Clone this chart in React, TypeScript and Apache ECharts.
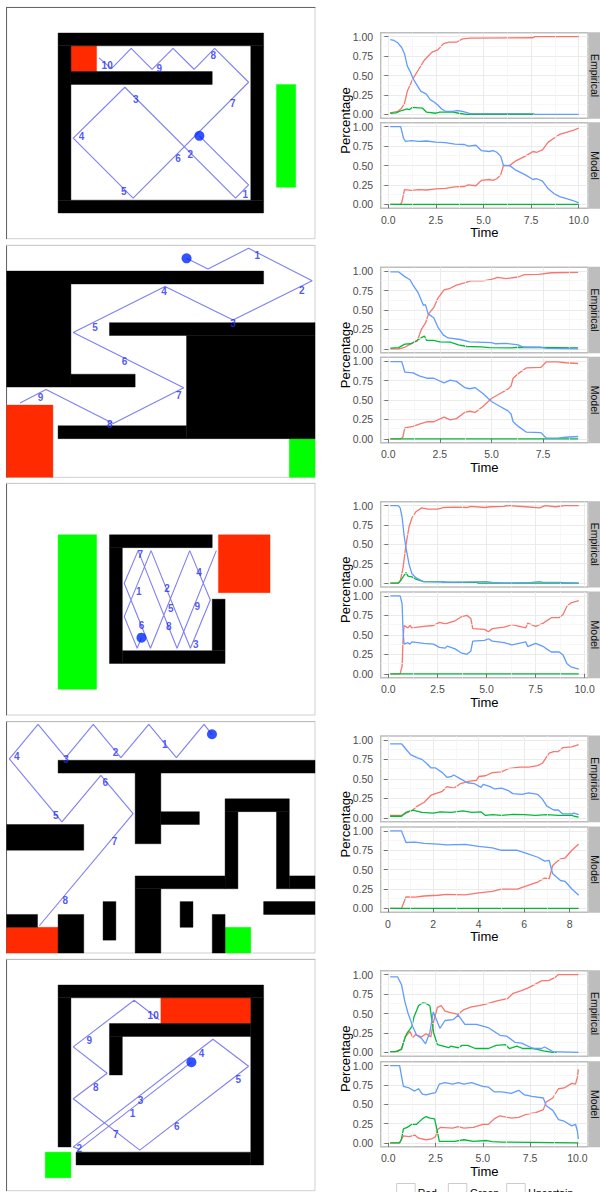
import React, { useEffect, useRef } from "react";
import * as echarts from "echarts";

type P = number[][];

// Time-course data: [time, share]
const r1EmpRed: P = [[.1,.02],[.3,.03],[.5,.04],[.7,.08],[.85,.14],[1,.3],[1.15,.38],[1.3,.46],[1.6,.58],[1.9,.7],[2.1,.75],[2.3,.8],[2.6,.83],[2.9,.91],[3.2,.93],[3.6,.93],[3.9,.97],[4.3,.98],[7.6,.985],[7.7,1],[10,1]];
const r1EmpGreen: P = [[.1,.015],[.4,.02],[.7,.05],[1,.07],[1.1,.06],[1.25,.09],[1.8,.08],[2,.03],[2.5,.015],[2.7,.03],[3.4,.03],[3.7,.015],[4.1,0],[7.6,0]];
const r1EmpBlue: P = [[.1,.96],[.3,.95],[.5,.92],[.7,.86],[.85,.78],[1,.62],[1.15,.55],[1.3,.46],[1.5,.38],[1.7,.3],[2,.26],[2.2,.19],[2.4,.16],[2.6,.12],[2.8,.07],[3,.04],[3.4,.04],[3.6,.05],[3.9,.04],[4.3,.01],[7.6,.01],[7.7,0],[10,0]];
const r1ModRed: P = [[.1,0],[.6,0],[.7,.02],[.85,.19],[1.2,.18],[1.6,.19],[2,.185],[2.5,.2],[3,.205],[3.5,.225],[4,.23],[4.2,.25],[4.6,.24],[4.9,.31],[5.3,.32],[5.5,.31],[5.7,.33],[5.9,.38],[6.05,.5],[6.4,.505],[6.7,.56],[7.2,.62],[7.6,.68],[7.8,.67],[8.1,.7],[8.4,.8],[8.7,.85],[9,.9],[9.4,.93],[9.7,.95],[10,.98]];
const r1ModGreen: P = [[.1,0],[10,0]];
const r1ModBlue: P = [[.1,1],[.65,1],[.8,.85],[.9,.81],[1.2,.82],[1.6,.81],[2,.815],[2.5,.8],[3,.795],[3.5,.775],[4,.77],[4.2,.75],[4.6,.76],[4.9,.69],[5.3,.68],[5.5,.69],[5.7,.67],[5.9,.62],[6.05,.5],[6.4,.495],[6.7,.44],[7.2,.38],[7.6,.32],[7.8,.33],[8.1,.3],[8.4,.2],[8.7,.14],[9,.1],[9.4,.07],[9.7,.05],[10,.02]];

const r2EmpRed: P = [[.1,0],[.5,0],[.8,.02],[1.2,.08],[1.4,.1],[1.6,.25],[1.8,.33],[1.95,.45],[2.2,.53],[2.4,.65],[2.7,.76],[3,.78],[3.3,.82],[3.7,.85],[4,.875],[4.6,.875],[5,.895],[5.3,.92],[5.7,.905],[6.3,.925],[6.6,.955],[7.3,.96],[7.9,.98],[9.2,.985]];
const r2EmpGreen: P = [[.1,.01],[.5,.015],[.8,.06],[1.1,.065],[1.4,.11],[1.65,.15],[1.75,.165],[1.85,.11],[2.2,.11],[2.5,.09],[3,.085],[3.4,.05],[3.8,.03],[4.5,.025],[4.9,.015],[6,.012],[6.3,.02],[9.2,.012]];
const r2EmpBlue: P = [[.1,.99],[.5,.99],[.8,.93],[1.05,.89],[1.2,.82],[1.45,.72],[1.7,.56],[1.8,.57],[1.93,.45],[2.2,.4],[2.4,.28],[2.66,.18],[2.9,.14],[3.47,.12],[3.95,.09],[5,.08],[5.2,.065],[5.7,.07],[6.3,.05],[6.55,.02],[7.4,.02],[7.7,.005],[9.2,0]];
const r2ModRed: P = [[.1,0],[.6,0],[.7,.02],[.8,.14],[1.2,.16],[1.5,.19],[1.9,.22],[2.2,.22],[2.7,.28],[3,.245],[3.3,.26],[3.7,.34],[3.95,.355],[4.2,.34],[4.6,.42],[5,.52],[5.4,.58],[5.8,.64],[5.95,.68],[6.05,.78],[6.3,.84],[6.7,.915],[7.4,.92],[7.65,.99],[8.2,.99],[8.6,.98],[9.2,.97]];
const r2ModGreen: P = [[.1,0],[9.2,0]];
const r2ModBlue: P = [[.1,.995],[.65,.995],[.8,.86],[1.2,.85],[1.5,.81],[1.9,.78],[2.2,.78],[2.7,.72],[3,.755],[3.3,.74],[3.7,.66],[3.95,.645],[4.2,.66],[4.6,.58],[5,.48],[5.4,.42],[5.8,.36],[5.95,.32],[6.05,.22],[6.3,.16],[6.7,.085],[7.4,.08],[7.65,.01],[8.2,.01],[8.6,.02],[9.2,.03]];

const r3EmpRed: P = [[.1,0],[.5,0],[.6,.02],[.75,.2],[.9,.5],[1.05,.72],[1.2,.84],[1.4,.92],[1.7,.97],[2,.955],[2.5,.955],[2.8,.975],[3.4,.98],[4,.975],[4.2,.99],[4.9,.975],[5.2,.985],[5.9,.99],[6,1],[7,.985],[7.7,.97],[8,1],[8.5,.985],[9,1],[9.7,1]];
const r3EmpGreen: P = [[.1,0],[.5,0],[.65,.04],[.8,.1],[.9,.135],[1,.09],[1.2,.08],[1.4,.05],[1.8,.02],[2.7,.015],[3.3,.01],[4.5,.01],[4.6,0],[9.7,0]];
const r3EmpBlue: P = [[.1,1],[.5,1],[.6,.97],[.7,.85],[.8,.62],[.9,.45],[1.05,.25],[1.2,.12],[1.4,.07],[1.7,.03],[1.8,.02],[2.7,.02],[2.8,.01],[5,.02],[5.3,.01],[6,0],[7.3,.01],[7.7,.02],[7.9,.01],[8.7,.01],[9.7,0]];
const r3ModRed: P = [[.1,0],[.6,0],[.7,.1],[.75,.45],[.8,.62],[1,.59],[1.1,.62],[1.2,.59],[1.8,.61],[2.3,.62],[2.6,.66],[2.9,.64],[3.4,.68],[3.7,.73],[4,.75],[4.2,.71],[4.3,.58],[4.9,.57],[5.1,.54],[5.3,.58],[5.9,.6],[6.3,.63],[7,.59],[7.1,.65],[7.5,.61],[7.9,.65],[8,.67],[8.3,.72],[8.7,.72],[8.9,.76],[9.1,.87],[9.3,.91],[9.7,.94]];
const r3ModGreen: P = [[.1,0],[9.7,0]];
const r3ModBlue: P = [[.1,1],[.6,1],[.7,.9],[.75,.55],[.8,.38],[1,.4],[1.1,.38],[1.2,.41],[1.8,.39],[2.3,.38],[2.6,.34],[2.9,.33],[3,.355],[3.4,.32],[3.7,.27],[4,.25],[4.2,.29],[4.3,.42],[4.9,.43],[5.1,.45],[5.3,.42],[5.9,.4],[6.3,.37],[7,.41],[7.1,.35],[7.5,.39],[7.9,.35],[8,.33],[8.3,.28],[8.7,.28],[8.9,.24],[9.1,.13],[9.3,.09],[9.7,.06]];

const r4EmpRed: P = [[.1,.03],[.6,.03],[.8,.06],[1.1,.1],[1.3,.15],[1.6,.2],[1.9,.29],[2.2,.32],[2.4,.34],[2.6,.4],[2.9,.38],[3.2,.44],[3.6,.47],[3.9,.48],[4,.53],[4.3,.54],[4.6,.58],[5,.59],[5.3,.63],[5.8,.65],[6.2,.65],[6.6,.67],[6.8,.7],[7.1,.83],[7.3,.85],[7.5,.85],[7.7,.9],[8.1,.91],[8.4,.94]];
const r4EmpGreen: P = [[.1,.02],[.6,.02],[.8,.07],[1.1,.1],[1.5,.07],[2,.06],[2.3,.075],[2.8,.07],[3.3,.09],[3.7,.07],[4.1,.075],[4.3,.03],[4.6,.04],[5,.03],[5.5,.045],[6,.04],[6.5,.03],[7,.04],[7.5,.03],[8.1,.03],[8.2,.02],[8.4,.01]];
const r4EmpBlue: P = [[.1,.95],[.6,.95],[.8,.88],[1,.81],[1.3,.77],[1.5,.75],[1.7,.7],[1.9,.64],[2.1,.64],[2.4,.58],[2.6,.52],[2.8,.53],[2.9,.55],[3.2,.5],[3.5,.45],[3.8,.44],[4.1,.39],[4.2,.43],[4.5,.4],[4.7,.37],[5,.38],[5.3,.35],[5.5,.31],[5.9,.3],[6.2,.32],[6.6,.3],[6.8,.24],[7,.15],[7.3,.1],[7.5,.1],[7.7,.05],[8.1,.05],[8.2,.06],[8.4,.04]];
const r4ModRed: P = [[.1,0],[.6,0],[.8,.15],[1.2,.145],[1.6,.16],[2.2,.17],[2.6,.18],[3.4,.175],[4,.2],[4.6,.22],[5,.25],[5.7,.25],[6.2,.3],[6.6,.34],[6.9,.39],[7.1,.38],[7.25,.55],[7.35,.58],[7.6,.64],[7.8,.65],[8.1,.75],[8.4,.83]];
const r4ModGreen: P = [[.1,0],[8.4,0]];
const r4ModBlue: P = [[.1,1],[.6,1],[.8,.85],[1.2,.855],[1.6,.84],[2.2,.83],[2.6,.82],[3.4,.825],[4,.8],[4.6,.78],[5,.75],[5.7,.75],[6.2,.7],[6.6,.66],[6.9,.61],[7.1,.62],[7.25,.45],[7.6,.36],[7.8,.35],[8.1,.25],[8.4,.17]];

const r5EmpRed: P = [[.1,.01],[.5,.01],[.7,.05],[.9,.2],[1.15,.27],[1.3,.19],[1.45,.23],[1.75,.2],[2,.24],[2.25,.2],[2.4,.4],[2.6,.58],[2.8,.6],[3,.53],[3.3,.51],[3.7,.49],[4,.55],[4.4,.585],[4.8,.6],[5.2,.625],[5.8,.665],[6.3,.69],[6.6,.76],[7,.79],[7.4,.83],[7.8,.88],[8.1,.92],[8.5,.925],[8.8,.96],[9,1],[10.05,1]];
const r5EmpGreen: P = [[.1,.01],[.4,.012],[.7,.04],[.9,.2],[1,.25],[1.25,.33],[1.35,.45],[1.6,.6],[1.8,.635],[2,.63],[2.2,.6],[2.4,.25],[2.6,.1],[2.9,.08],[3.2,.06],[3.3,.08],[3.7,.06],[3.9,.09],[4.2,.09],[4.6,.05],[5.3,.05],[5.7,.09],[6.2,.1],[6.4,.05],[6.8,.08],[7.1,.05],[7.7,.05],[8.2,.02],[8.7,0],[8.9,0]];
const r5EmpBlue: P = [[.1,.97],[.5,.97],[.7,.87],[.88,.65],[1.05,.5],[1.3,.33],[1.5,.22],[1.76,.18],[1.97,.11],[2.2,.26],[2.38,.52],[2.73,.31],[3,.41],[3.43,.42],[3.7,.48],[4.05,.36],[4.66,.36],[5.28,.32],[5.9,.22],[6.25,.21],[6.7,.13],[7.04,.12],[7.66,.05],[8.1,.05],[8.27,.07],[8.7,.01],[10.05,0]];
const r5ModRed: P = [[.1,0],[.6,0],[.8,.09],[1.1,.08],[1.4,.1],[1.6,.06],[2,.04],[2.3,.05],[2.5,.08],[2.6,.17],[2.75,.2],[3.4,.19],[3.7,.21],[4,.19],[4.5,.2],[5,.24],[5.3,.24],[5.6,.31],[5.9,.35],[6.5,.32],[6.9,.33],[7.3,.37],[7.8,.39],[8.2,.43],[8.35,.53],[8.7,.58],[9,.7],[9.3,.71],[9.7,.77],[9.9,.76],[10,.85],[10.05,.95]];
const r5ModGreen: P = [[.1,0],[.6,0],[.7,.05],[.8,.18],[1,.2],[1.25,.24],[1.5,.24],[1.8,.31],[2,.34],[2.2,.32],[2.45,.31],[2.55,.2],[2.7,.02],[3.3,.02],[3.5,.02],[4,.04],[4.5,.02],[5.2,.03],[5.5,.015],[6,.01],[10.05,0]];
const r5ModBlue: P = [[.1,1],[.6,1],[.8,.73],[1.1,.71],[1.4,.67],[1.6,.7],[1.8,.63],[2,.62],[2.3,.64],[2.5,.65],[2.7,.76],[3,.78],[3.4,.76],[3.7,.78],[4,.76],[4.4,.78],[5,.73],[5.3,.72],[5.6,.66],[6,.66],[6.5,.64],[6.9,.68],[7.2,.62],[7.6,.6],[8.2,.58],[8.35,.48],[8.7,.42],[9,.3],[9.3,.28],[9.7,.22],[9.9,.24],[10,.15],[10.05,.05]];

const yTicks = [0, 0.25, 0.5, 0.75, 1];
const yMinor = [0.125, 0.375, 0.625, 0.875];
const xTicks25 = [0, 2.5, 5, 7.5, 10];
const xTicks25b = [0, 2.5, 5, 7.5];
const xTicks2 = [0, 2, 4, 6, 8];
const xMinor25 = [1.25, 3.75, 6.25, 8.75];
const xMinor2 = [1, 3, 5, 7];

// Maze geometry in maze cells: [x0, y0, x1, y1]
const m1Walls: P = [[4,2,20,3],[4,15,20,16],[4,3,5,15],[19,3,20,15],[5,5,16,6]];
const m1Red: P = [[5,3,7,5]];
const m1Green: P = [[21,6,22.5,14]];
const m1Path: P = [[15,10],[18.83,13.81],[17.82,14.84],[9.2,6.22],[5.18,10.18],[9.84,14.84],[18.83,5.83],[16.19,3.19],[14.59,4.82],[12.95,3.19],[11.32,4.82],[9.69,3.19],[8.16,4.77],[7.18,3.94]];
const m1Labels: P = [[18.58,14.59],[14.3,11.48],[10.05,7.2],[5.83,10.05],[9.12,14.3],[13.34,11.79],[17.59,7.51],[16.09,3.76],[11.87,4.74],[7.82,4.53]];

const m2Walls: P = [[0,2,20,3],[0,3,5,11],[5,10,10,11],[8,6,24,7],[14,7,24,15],[4,14,14,15]];
const m2Red: P = [[0,12.4,3.6,18]];
const m2Green: P = [[22,15,24,18]];
const m2Path: P = [[14,1.01],[15.67,1.84],[18.83,.23],[23.78,2.75],[17.62,5.8],[12.33,3.19],[5.18,6.76],[13.78,11.06],[8.29,13.83],[3.06,11.19],[1.04,12.23]];
const m2Labels: P = [[19.51,.8],[22.98,3.52],[17.62,6.06],[12.25,3.6],[6.87,6.35],[9.17,8.99],[13.39,11.68],[8.03,13.91],[2.64,11.81]];

const m3Walls: P = [[8,4,16,5],[8,5,9,14],[9,13,17,14],[16,9,17,13]];
const m3Red: P = [[16.48,4,20.5,8.5]];
const m3Green: P = [[4,4,7,16]];
const m3Path: P = [[10.49,11.99],[10.16,12.82],[9.15,10.36],[11.24,5.23],[14.3,12.82],[15.85,9.07],[14.25,5.23],[11.19,12.82],[9.15,7.77],[10.23,5.23],[13.26,12.82],[16.32,5.23]];
const m3Labels: P = [[10.28,8.37],[12.49,8.21],[14.72,12.51],[14.97,6.92],[12.77,9.72],[10.49,11.06],[10.39,5.57],[12.62,11.14],[14.84,9.59]];

const m4Walls: P = [[4,3,24,4],[10,4,12,9.5],[12,7,15,8],[0,8,6,10],[17,6,22,7],[17,7,18,13],[21,7,22,13],[22,12,24,13],[10,12,17,13],[10,13,12,18],[0,15,2.4,16],[4,15,6,18],[7.5,14,8.5,17],[13.5,14,14.5,16],[16,15,17,18],[20,14,24,15]];
const m4Red: P = [[0,16,4,18]];
const m4Green: P = [[17,16,19,18]];
const m4Path: P = [[15.98,.98],[15.36,.21],[13.21,2.8],[11.06,.21],[8.89,2.8],[6.74,.21],[4.59,2.8],[2.44,.21],[.21,2.9],[4.3,7.8],[7.33,4.17],[9.84,7.15],[2.54,15.88]];
const m4Labels: P = [[12.31,1.81],[8.47,2.38],[4.61,2.95],[.78,2.72],[3.83,7.33],[7.67,4.72],[8.39,9.33],[4.56,13.94]];

const m5Walls: P = [[4,2,20,3],[4,3,5,14.6],[19,3,20,16],[5.4,15,19,16],[8,5,19,6],[8,6,9,9]];
const m5Red: P = [[12,3,19,5]];
const m5Green: P = [[3,15,5,17]];
const m5Path: P = [[14.38,8],[5.65,14.77],[5.18,14.59],[16.06,6.22],[18.83,8.32],[10.36,14.84],[5.18,10.85],[7.82,8.86],[5.18,6.81],[9.92,3.19],[11.87,4.69]];
const m5Labels: P = [[9.79,11.97],[5.65,14.69],[10.41,11.01],[15.16,7.33],[18.03,9.35],[13.24,13],[8.5,13.63],[6.94,9.95],[6.42,6.3],[11.4,4.38]];

const legendNames = ["Red", "Green", "Uncertain"];
const RED = "#F8766D", GREEN = "#00BA38", BLUE = "#619CFF";
const FONT = "'Liberation Sans', Arial, sans-serif";

const PX0 = 380.7, PX1 = 588;
const rowsCfg = [
  { frame: [7.3, 238.7], top: "#666", emp: [32.7, 118.3], mod: [122.7, 208.3], x: [-0.4, 10.49], ticks: xTicks25, minor: xMinor25, dec: 1,
    s: [r1EmpRed, r1EmpGreen, r1EmpBlue, r1ModRed, r1ModGreen, r1ModBlue], m: [m1Walls, m1Red, m1Green, m1Path, m1Labels] },
  { frame: [245.3, 477.3], top: "#ccc", emp: [267.3, 352.7], mod: [357.3, 442.7], x: [-0.37, 9.68], ticks: xTicks25b, minor: xMinor25, dec: 1,
    s: [r2EmpRed, r2EmpGreen, r2EmpBlue, r2ModRed, r2ModGreen, r2ModBlue], m: [m2Walls, m2Red, m2Green, m2Path, m2Labels] },
  { frame: [483.3, 715], top: "#ccc", emp: [501.7, 587], mod: [592, 677.7], x: [-0.39, 10.17], ticks: xTicks25, minor: xMinor25, dec: 1,
    s: [r3EmpRed, r3EmpGreen, r3EmpBlue, r3ModRed, r3ModGreen, r3ModBlue], m: [m3Walls, m3Red, m3Green, m3Path, m3Labels] },
  { frame: [721.7, 953], top: "#bbb", emp: [736, 821.7], mod: [827, 912.3], x: [-0.315, 8.81], ticks: xTicks2, minor: xMinor2, dec: 0,
    s: [r4EmpRed, r4EmpGreen, r4EmpBlue, r4ModRed, r4ModGreen, r4ModBlue], m: [m4Walls, m4Red, m4Green, m4Path, m4Labels] },
  { frame: [959.3, 1190.7], top: "#bbb", emp: [970.7, 1056.3], mod: [1061.7, 1146.7], x: [-0.4, 10.56], ticks: xTicks25, minor: xMinor25, dec: 1,
    s: [r5EmpRed, r5EmpGreen, r5EmpBlue, r5ModRed, r5ModGreen, r5ModBlue], m: [m5Walls, m5Red, m5Green, m5Path, m5Labels] },
];

function buildOption() {
  const grid: any[] = [], xAxis: any[] = [], yAxis: any[] = [], series: any[] = [], graphic: any[] = [];
  const rectSeries = (rects: P, idx: number, fill: string) => ({
    type: "custom", xAxisIndex: idx, yAxisIndex: idx, silent: true, z: 2, data: rects, clip: false,
    renderItem: (_: any, api: any) => {
      const a = api.coord([api.value(0), api.value(1)]);
      const b = api.coord([api.value(2), api.value(3)]);
      return { type: "rect", shape: { x: a[0], y: a[1], width: b[0] - a[0], height: b[1] - a[1] }, style: { fill, stroke: fill, lineWidth: 0.4 } };
    },
    encode: { x: [0, 2], y: [1, 3] },
  });

  rowsCfg.forEach((r) => {
    // maze
    let idx = grid.length;
    grid.push({ left: 6.7, width: 308.3, top: r.frame[0], height: r.frame[1] - r.frame[0], show: true, borderColor: "#cfcfcf", borderWidth: 1, backgroundColor: "#fff" });
    xAxis.push({ gridIndex: idx, type: "value", min: 0, max: 24, position: "top", axisLine: { show: true, onZero: false, lineStyle: { color: r.top, width: 1 } }, axisTick: { show: false }, axisLabel: { show: false }, splitLine: { show: false } });
    yAxis.push({ gridIndex: idx, type: "value", min: 0, max: 18, inverse: true, position: "left", axisLine: { show: true, onZero: false, lineStyle: { color: "#666", width: 1 } }, axisTick: { show: false }, axisLabel: { show: false }, splitLine: { show: false } });
    const [walls, red, green, path, labels] = r.m;
    series.push(rectSeries(red, idx, "#FF2A00"));
    series.push(rectSeries(green, idx, "#00FF00"));
    series.push(rectSeries(walls, idx, "#000"));
    series.push({ type: "line", xAxisIndex: idx, yAxisIndex: idx, data: path, symbol: "none", silent: true, z: 3, clip: false, lineStyle: { color: "#7F7FF5", width: 1.1 } });
    series.push({ type: "scatter", xAxisIndex: idx, yAxisIndex: idx, data: [path[0]], symbolSize: 10, silent: true, z: 4, itemStyle: { color: "#0028FF" } });
    series.push({ type: "scatter", xAxisIndex: idx, yAxisIndex: idx, data: labels, symbolSize: 1, silent: true, z: 5, itemStyle: { color: "transparent" },
      label: { show: true, position: "inside", formatter: (p: any) => String(p.dataIndex + 1), color: "#1F2FF0", fontFamily: FONT, fontWeight: "bold", fontSize: 10 } });

    // time-course panels
    ([r.emp, r.mod] as number[][]).forEach((band, k) => {
      idx = grid.length;
      const isMod = k === 1;
      grid.push({ left: PX0, width: PX1 - PX0, top: band[0], height: band[1] - band[0], show: true, borderColor: "#bdbdbd", borderWidth: 1.4, backgroundColor: "#fff" });
      xAxis.push({ gridIndex: idx, type: "value", min: r.x[0], max: r.x[1],
        axisLine: { show: false },
        axisTick: { show: isMod, length: 4, customValues: r.ticks, lineStyle: { color: "#555", width: 0.8 } },
        axisLabel: { show: isMod, customValues: r.ticks, margin: 6, color: "#4d4d4d", fontFamily: FONT, fontSize: 10.5, formatter: (v: number) => v.toFixed(r.dec) },
        splitLine: { show: true, lineStyle: { color: "#e9e9e9", width: 0.9 } },
        name: isMod ? "Time" : "", nameLocation: "middle", nameGap: 17, nameTextStyle: { color: "#000", fontFamily: FONT, fontSize: 13 },
      });
      yAxis.push({ gridIndex: idx, type: "value", min: -0.05, max: 1.05,
        axisLine: { show: false },
        axisTick: { show: true, length: 4, customValues: yTicks, lineStyle: { color: "#555", width: 0.8 } },
        axisLabel: { show: true, customValues: yTicks, margin: 7.5, color: "#4d4d4d", fontFamily: FONT, fontSize: 10.5, formatter: (v: number) => v.toFixed(2) },
        splitLine: { show: true, lineStyle: { color: "#e9e9e9", width: 0.9 } },
      });
      series.push({ type: "line", xAxisIndex: idx, yAxisIndex: idx, data: [], silent: true, z: 1,
        markLine: { silent: true, symbol: "none", animation: false, label: { show: false }, lineStyle: { color: "#f4f4f4", width: 0.7, type: "solid" },
          data: [...r.minor.filter((v) => v < r.x[1]).map((v) => ({ xAxis: v })), ...yMinor.map((v) => ({ yAxis: v }))] } });
      [RED, GREEN, BLUE].forEach((c, j) => {
        series.push({ type: "line", name: legendNames[j], xAxisIndex: idx, yAxisIndex: idx, data: r.s[k * 3 + j], symbol: "none", silent: true, z: 3 + j, lineStyle: { color: c, width: 1.3 } });
      });
      graphic.push({ type: "rect", silent: true, z: 10, shape: { x: PX1 + 0.7, y: band[0] - 0.5, width: 12, height: band[1] - band[0] + 1 }, style: { fill: "#bdbdbd" } });
      graphic.push({ type: "text", silent: true, z: 11, x: 595, y: (band[0] + band[1]) / 2, rotation: -Math.PI / 2,
        style: { text: isMod ? "Model" : "Empirical", fill: "#111", font: `10.5px ${FONT}`, align: "center", verticalAlign: "middle" } });
    });
    graphic.push({ type: "text", silent: true, z: 11, x: 345, y: (r.emp[0] + r.mod[1]) / 2, rotation: Math.PI / 2,
      style: { text: "Percentage", fill: "#000", font: `13px ${FONT}`, align: "center", verticalAlign: "middle" } });
  });

  [[396.7, 417.7], [448.3, 470], [506.7, 528.3]].forEach((pos, i) => {
    graphic.push({ type: "rect", silent: true, z: 11, shape: { x: pos[0], y: 1183.5, width: 18.5, height: 20 }, style: { fill: "#fff", stroke: "#ccc", lineWidth: 1 } });
    graphic.push({ type: "text", silent: true, z: 11, x: pos[1], y: 1193, style: { text: legendNames[i], fill: "#000", font: `10.5px ${FONT}`, align: "left", verticalAlign: "middle" } });
  });

  return { animation: false, backgroundColor: "#fff", grid, xAxis, yAxis, series, graphic };
}

export default function App() {
  const ref = useRef<HTMLDivElement>(null);
  useEffect(() => {
    document.body.style.margin = "0";
    const chart = echarts.init(ref.current!, undefined, { renderer: "svg" });
    chart.setOption(buildOption() as any);
    return () => chart.dispose();
  }, []);
  return <div ref={ref} style={{ width: 600, height: 1192, position: "absolute", left: 0, top: 0, overflow: "hidden" }} />;
}
